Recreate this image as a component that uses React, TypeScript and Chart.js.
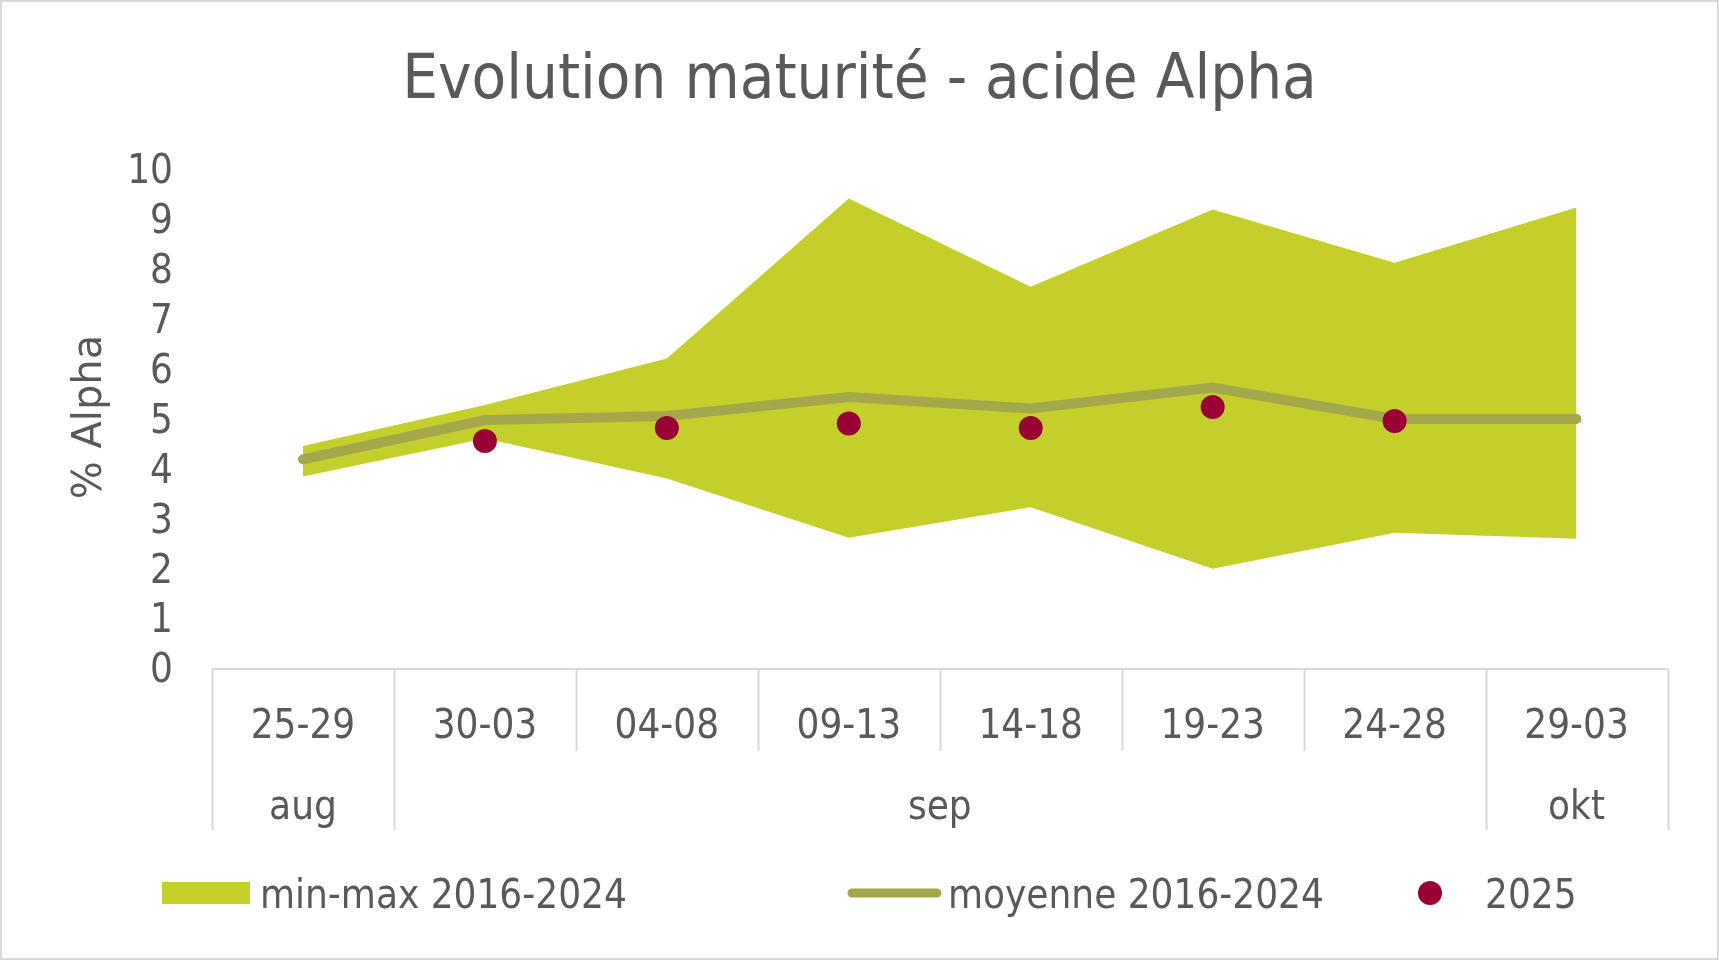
import { useEffect, useRef } from "react"
import { Chart, registerables } from "chart.js"
import type { Plugin } from "chart.js"

Chart.register(...registerables)

const categories = ["25-29", "30-03", "04-08", "09-13", "14-18", "19-23", "24-28", "29-03"]
const months = ["aug", "sep", "sep", "sep", "sep", "sep", "sep", "okt"]
const maxValues = [4.47, 5.29, 6.22, 9.43, 7.66, 9.21, 8.14, 9.25]
const minValues = [3.86, 4.62, 3.82, 2.63, 3.24, 2.01, 2.73, 2.61]
const meanValues = [4.2, 4.99, 5.07, 5.45, 5.22, 5.64, 5.01, 5.01]
const values2025 = [null, 4.57, 4.83, 4.92, 4.83, 5.25, 4.97, null]
const yTickValues = [0, 1, 2, 3, 4, 5, 6, 7, 8, 9, 10]

const TITLE = "Evolution maturité - acide Alpha"
const Y_TITLE = "% Alpha"
const LEGEND_BAND = "min-max 2016-2024"
const LEGEND_MEAN = "moyenne 2016-2024"
const LEGEND_2025 = "2025"

const CONDENSED = "'DejaVu Sans Condensed', 'DejaVu Sans', sans-serif"
const REGULAR = "'DejaVu Sans', sans-serif"
const TEXT = "#595959"
const GRID = "#d9d9d9"
const BAND = "#c4cf2b"
const MEAN = "#a5a84a"
const DOT = "#990033"

// title, axis title, multi-level x axis and legend drawn by hand
const decorations: Plugin<"line"> = {
  id: "decorations",
  afterDraw(chart) {
    const { ctx, chartArea, scales } = chart
    const x = scales.x
    const step = x.getPixelForValue(1) - x.getPixelForValue(0)
    const start = x.getPixelForValue(0) - step / 2
    const bottom = chartArea.bottom

    ctx.save()
    ctx.strokeStyle = GRID
    ctx.lineWidth = 2
    ctx.strokeRect(1, 1, chart.width - 2, chart.height - 2)

    ctx.beginPath()
    ctx.moveTo(chartArea.left, bottom)
    ctx.lineTo(chartArea.right, bottom)
    ctx.stroke()

    for (let i = 0; i <= categories.length; i++) {
      const px = Math.round(start + i * step) + 0.5
      const edge = i === 0 || i === categories.length || months[i] !== months[i - 1]
      ctx.beginPath()
      ctx.moveTo(px, bottom)
      ctx.lineTo(px, bottom + (edge ? 161 : 82))
      ctx.stroke()
    }

    ctx.fillStyle = TEXT
    ctx.font = `40px ${CONDENSED}`
    ctx.textAlign = "center"
    ctx.textBaseline = "alphabetic"
    let g = 0
    for (let i = 1; i <= months.length; i++) {
      if (i === months.length || months[i] !== months[g]) {
        const cx = start + ((g + i) / 2) * step
        ctx.fillText(months[g], cx, bottom + 150)
        g = i
      }
    }

    ctx.font = `63px ${CONDENSED}`
    ctx.fillText(TITLE, chart.width / 2, 98)

    ctx.save()
    ctx.translate(101, 417)
    ctx.rotate(-Math.PI / 2)
    ctx.font = `40px ${REGULAR}`
    ctx.fillText(Y_TITLE, 0, 0)
    ctx.restore()

    // legend
    ctx.textAlign = "left"
    ctx.font = `40px ${CONDENSED}`
    ctx.fillStyle = BAND
    ctx.fillRect(162, 882, 88, 22)
    ctx.fillStyle = TEXT
    ctx.fillText(LEGEND_BAND, 260, 908)

    ctx.strokeStyle = MEAN
    ctx.lineWidth = 9
    ctx.lineCap = "round"
    ctx.beginPath()
    ctx.moveTo(852, 893)
    ctx.lineTo(937, 893)
    ctx.stroke()
    ctx.fillText(LEGEND_MEAN, 948, 908)

    ctx.fillStyle = DOT
    ctx.beginPath()
    ctx.arc(1430, 893, 12, 0, Math.PI * 2)
    ctx.fill()
    ctx.fillStyle = TEXT
    ctx.fillText(LEGEND_2025, 1485, 908)
    ctx.restore()
  },
}

export default function App() {
  const canvasRef = useRef<HTMLCanvasElement | null>(null)
  const chartRef = useRef<Chart | null>(null)

  useEffect(() => {
    if (!canvasRef.current) return
    if (chartRef.current) chartRef.current.destroy()

    chartRef.current = new Chart(canvasRef.current, {
      type: "line",
      data: {
        labels: categories,
        datasets: [
          {
            label: LEGEND_BAND,
            data: maxValues,
            borderWidth: 0,
            pointRadius: 0,
            backgroundColor: BAND,
            fill: "+1",
            order: 3,
          },
          {
            label: "min",
            data: minValues,
            borderWidth: 0,
            pointRadius: 0,
            fill: false,
            order: 4,
          },
          {
            label: LEGEND_MEAN,
            data: meanValues,
            borderColor: MEAN,
            borderWidth: 10,
            borderCapStyle: "round",
            pointRadius: 0,
            fill: false,
            order: 2,
          },
          {
            label: LEGEND_2025,
            data: values2025,
            showLine: false,
            pointRadius: 12,
            pointBackgroundColor: DOT,
            pointBorderWidth: 0,
            fill: false,
            order: 1,
          },
        ],
      },
      options: {
        animation: false,
        responsive: true,
        maintainAspectRatio: false,
        layout: { padding: { top: 170, right: 51.5, left: 0, bottom: 0 } },
        plugins: {
          legend: { display: false },
          title: { display: false },
          tooltip: { enabled: false },
        },
        scales: {
          x: {
            offset: true,
            grid: { display: false, drawTicks: false },
            border: { display: false },
            ticks: {
              color: TEXT,
              padding: 35,
              maxRotation: 0,
              autoSkip: false,
              font: { family: CONDENSED, size: 40 },
            },
            afterFit: (scale) => {
              scale.height = 291
            },
          },
          y: {
            min: 0,
            max: 10,
            grid: { display: false, drawTicks: false },
            border: { display: false },
            afterBuildTicks: (scale) => {
              scale.ticks = yTickValues.map((v) => ({ value: v }))
            },
            ticks: {
              color: TEXT,
              padding: 39,
              autoSkip: false,
              labelOffset: 3,
              font: { family: CONDENSED, size: 40 },
            },
            afterFit: (scale) => {
              scale.width = 212
            },
          },
        },
      },
      plugins: [decorations],
    })

    return () => {
      if (chartRef.current) {
        chartRef.current.destroy()
        chartRef.current = null
      }
    }
  }, [])

  return (
    <div style={{ position: "fixed", left: 0, top: 0, width: 1719, height: 960, background: "#fff" }}>
      <canvas ref={canvasRef}></canvas>
    </div>
  )
}
